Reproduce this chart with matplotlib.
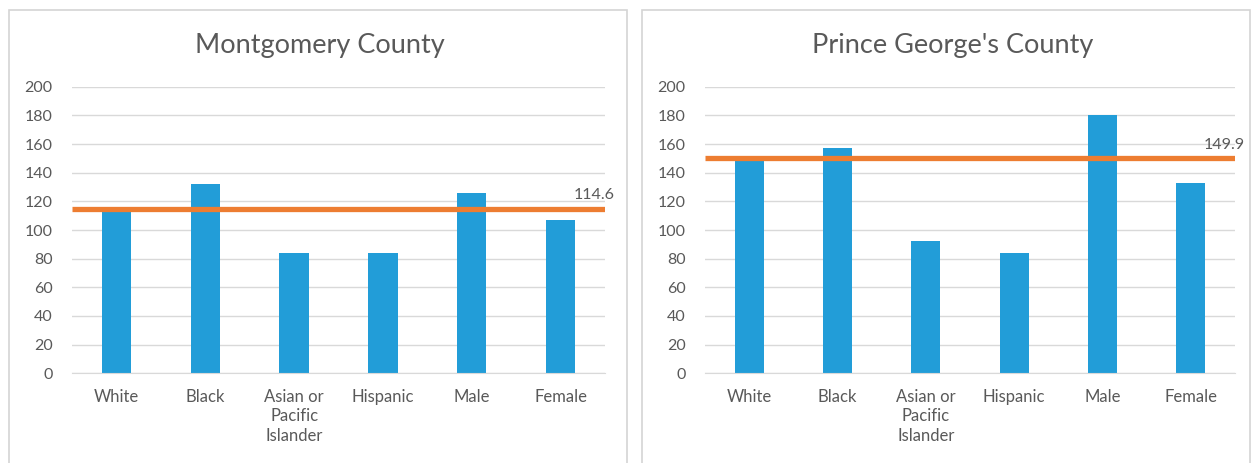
import matplotlib
matplotlib.use('Agg')

import matplotlib.pyplot as plt
from matplotlib.patches import Rectangle

# ── 데이터 ───────────────────────────────────────────────────────────────────
CATEGORIES = ['White', 'Black', 'Asian or\nPacific\nIslander', 'Hispanic', 'Male', 'Female']
MONT_VALUES = [113, 132, 84, 84, 126, 107]
MONT_AVG = 114.6
PG_VALUES = [148, 157, 92, 84, 180, 133]
PG_AVG = 149.9
TITLES = ['Montgomery County', "Prince George's County"]
Y_TICKS = [0, 20, 40, 60, 80, 100, 120, 140, 160, 180, 200]

BAR_COLOR = '#229DD8'
LINE_COLOR = '#ED7D31'
TEXT_COLOR = '#595959'
GRID_COLOR = '#D9D9D9'

plt.rcParams['font.family'] = ['Lato', 'DejaVu Sans']

W, H = 1254, 463
fig = plt.figure(figsize=(W / 100, H / 100), dpi=100)

# 패널 테두리
for x0, x1 in [(9, 627), (642, 1250)]:
    fig.patches.append(Rectangle((x0 / W, -0.05), (x1 - x0) / W, 1.05 - 10 / H,
                                 transform=fig.transFigure, fill=False,
                                 edgecolor='#D4D4D4', linewidth=1.2))


def draw_panel(rect, values, avg, title, title_x):
    ax = fig.add_axes(rect)
    x = range(len(CATEGORIES))
    ax.bar(x, values, width=0.33, color=BAR_COLOR, zorder=2)
    ax.plot([-0.5, len(CATEGORIES) - 0.5], [avg, avg], color=LINE_COLOR,
            linewidth=3.8, zorder=3, solid_capstyle='butt')
    ax.annotate(f'{avg:.1f}', xy=(len(CATEGORIES) - 0.5, avg), xytext=(-8, 5),
                textcoords='offset points', ha='center', va='bottom',
                fontsize=11.5, color=TEXT_COLOR)
    ax.set_xlim(-0.5, len(CATEGORIES) - 0.5)
    ax.set_ylim(0, 200)
    ax.set_yticks(Y_TICKS)
    ax.set_xticks(list(x))
    ax.set_xticklabels(CATEGORIES, linespacing=1.3)
    ax.tick_params(axis='y', length=0, pad=14, labelsize=11.5, labelcolor=TEXT_COLOR)
    ax.tick_params(axis='x', length=0, pad=11, labelsize=12, labelcolor=TEXT_COLOR)
    ax.grid(axis='y', color=GRID_COLOR, linewidth=1, zorder=0)
    ax.set_axisbelow(True)
    for s in ['top', 'right', 'left']:
        ax.spines[s].set_visible(False)
    ax.spines['bottom'].set_color(GRID_COLOR)
    fig.text(title_x, 1 - 46 / H, title, ha='center', va='center',
             fontsize=19.5, color=TEXT_COLOR)
    return ax


draw_panel([72 / W, 1 - 373.3 / H, (605 - 72) / W, (373.3 - 86.7) / H],
           MONT_VALUES, MONT_AVG, TITLES[0], 320 / W)
draw_panel([705 / W, 1 - 373.3 / H, (1235 - 705) / W, (373.3 - 86.7) / H],
           PG_VALUES, PG_AVG, TITLES[1], 953 / W)

fig.savefig('out.png', dpi=100)
plt.close(fig)
